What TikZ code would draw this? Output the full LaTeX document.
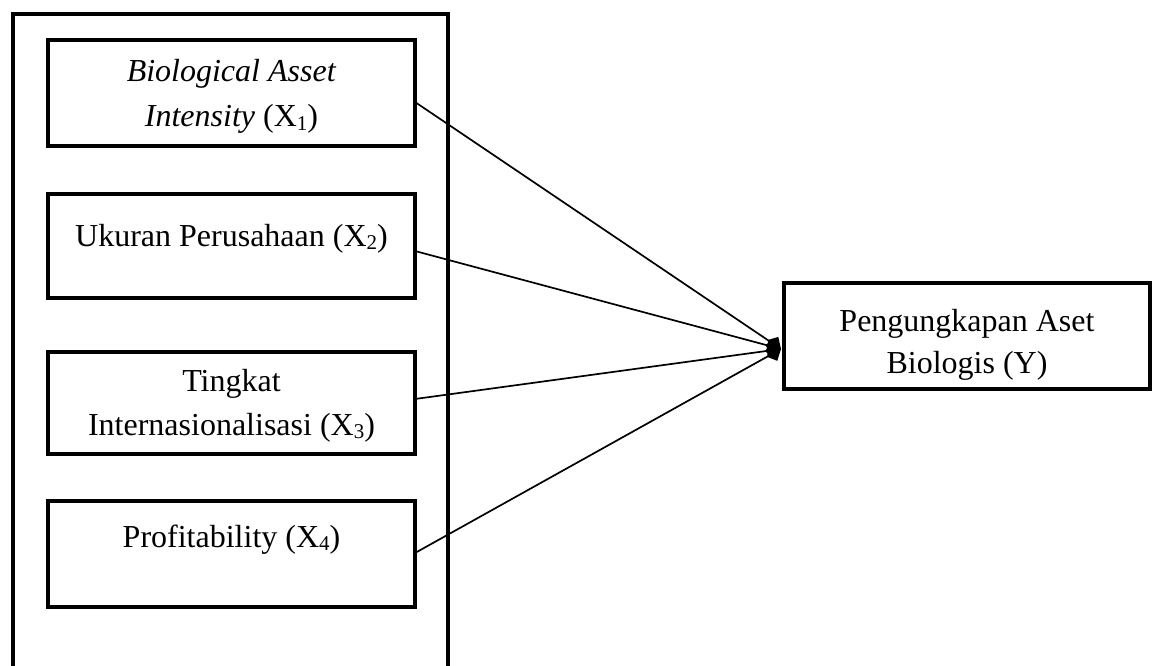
\documentclass[tikz,border=0pt]{standalone}
\usepackage{fontspec}
\setmainfont{Liberation Serif}
\usetikzlibrary{arrows.meta}
\newcommand{\subnum}[1]{\raisebox{-0.12em}{\fontsize{21}{21}\selectfont #1}}
\begin{document}
\begin{tikzpicture}[x=1pt,y=-1pt,
  box/.style={draw,line width=4pt,minimum width=367pt,inner sep=0pt,outer sep=0pt},
  txt/.style={anchor=base,inner sep=0pt,font=\fontsize{32}{44}\selectfont},
  conn/.style={line width=1.7pt,-{Kite[length=16pt,width=17pt,inset=7pt]}}]
\useasboundingbox (0,0) rectangle (1154,666);
\clip (0,0) rectangle (1154,666);
\fill[white] (0,0) rectangle (1154,666);
% outer frame
\node[draw,line width=4pt,minimum width=435pt,minimum height=700pt,inner sep=0pt,anchor=north west] (outer) at (11,12) {};
% inner boxes
\node[box,minimum height=105.5pt] (b1) at (231.5,93) {};
\node[box,minimum height=104.5pt] (b2) at (231.5,246) {};
\node[box,minimum height=102.5pt] (b3) at (231.5,403) {};
\node[box,minimum height=106.5pt] (b4) at (231.5,554) {};
\node[box,minimum width=366pt,minimum height=106pt] (y) at (967,336) {};
% texts
\node[txt] (t1a) at (231.5,82) {\textit{Biological Asset}};
\node[txt] (t1b) at (231.5,127) {\textit{Intensity} (X\subnum{1})};
\node[txt] (t2) at (231.5,246) {Ukuran Perusahaan (X\subnum{2})};
\node[txt] (t3a) at (231.5,391) {Tingkat};
\node[txt] (t3b) at (231.5,435) {Internasionalisasi (X\subnum{3})};
\node[txt] (t4) at (231.5,547) {Profitability (X\subnum{4})};
\node[txt] (tya) at (967,331) {Pengungkapan Aset};
\node[txt] (tyb) at (967,373) {Biologis (Y)};
% connectors
\coordinate (tip) at (781,349);
\draw[conn] ([yshift=-9pt]b1.east) -- (tip);
\draw[conn] ([yshift=-5pt]b2.east) -- (tip);
\draw[conn] ([yshift=4pt]b3.east) -- (tip);
\draw[conn] ([yshift=1pt]b4.east) -- (tip);
\end{tikzpicture}
\end{document}
